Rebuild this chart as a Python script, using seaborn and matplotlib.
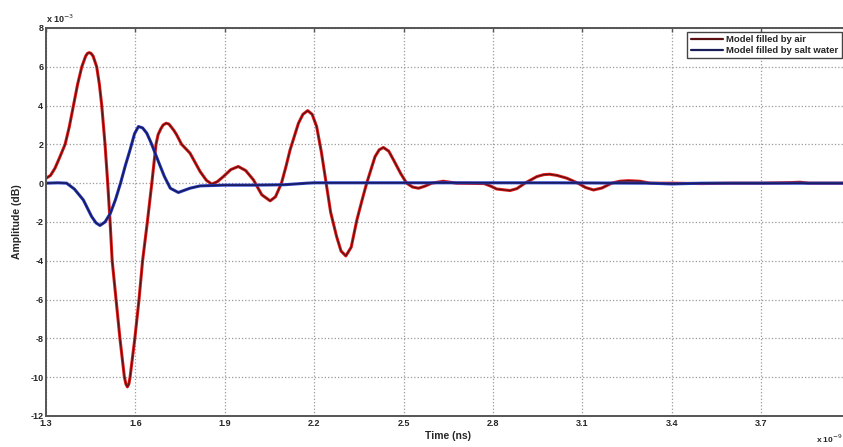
import numpy as np
import pandas as pd
import seaborn as sns
import matplotlib.pyplot as plt
from matplotlib.lines import Line2D

# time axis in units of 1e-9 s, amplitude in units of 1e-3
t_air = [1.300, 1.315, 1.330, 1.345, 1.364, 1.378, 1.392, 1.406, 1.420, 1.433, 1.439, 1.445,
         1.451, 1.458, 1.470, 1.479, 1.487, 1.498, 1.507, 1.515, 1.522, 1.535, 1.548, 1.563,
         1.568, 1.573, 1.578, 1.582, 1.598, 1.612, 1.624, 1.640, 1.655, 1.662, 1.669, 1.676,
         1.685, 1.693, 1.703, 1.712, 1.720, 1.729, 1.738, 1.755, 1.783, 1.817, 1.838, 1.856,
         1.875, 1.895, 1.920, 1.945, 1.970, 1.996, 2.024, 2.052, 2.070, 2.090, 2.105, 2.119,
         2.147, 2.162, 2.178, 2.193, 2.208, 2.224, 2.240, 2.255, 2.275, 2.290, 2.306, 2.324,
         2.343, 2.360, 2.376, 2.404, 2.418, 2.432, 2.450, 2.466, 2.490, 2.510, 2.530, 2.550,
         2.572, 2.594, 2.633, 2.678, 2.770, 2.792, 2.812, 2.857, 2.880, 2.907, 2.947, 2.970,
         2.990, 3.015, 3.047, 3.085, 3.110, 3.137, 3.165, 3.198, 3.225, 3.254, 3.293, 3.327,
         3.400, 3.500, 3.600, 3.700, 3.800, 3.830, 3.860, 3.950, 4.000]
amp_air = [0.25, 0.40, 0.77, 1.30, 2.00, 2.90, 4.00, 5.10, 6.00, 6.55, 6.69, 6.73,
           6.69, 6.55, 6.00, 5.10, 4.00, 2.00, 0.00, -2.00, -4.00, -6.00, -8.00, -10.00,
           -10.35, -10.50, -10.35, -10.00, -8.00, -6.00, -4.00, -2.00, 0.00, 1.00, 2.00, 2.50,
           2.80, 3.00, 3.09, 3.05, 2.90, 2.72, 2.50, 2.00, 1.55, 0.60, 0.15, -0.05,
           0.08, 0.34, 0.70, 0.86, 0.65, 0.17, -0.60, -0.91, -0.70, 0.00, 0.85, 1.72,
           3.09, 3.55, 3.74, 3.55, 2.92, 1.60, 0.00, -1.50, -2.75, -3.50, -3.75, -3.30,
           -1.90, -0.90, 0.00, 1.37, 1.72, 1.84, 1.65, 1.20, 0.50, 0.00, -0.20, -0.26,
           -0.15, 0.00, 0.10, 0.00, -0.02, -0.15, -0.30, -0.38, -0.28, 0.00, 0.34, 0.44,
           0.46, 0.40, 0.26, 0.00, -0.22, -0.35, -0.25, 0.00, 0.10, 0.13, 0.10, 0.00,
           0.00, -0.02, 0.00, 0.00, 0.03, 0.05, 0.00, 0.00, 0.00]

t_salt = [1.300, 1.340, 1.369, 1.395, 1.425, 1.453, 1.468, 1.481, 1.498, 1.516, 1.533,
          1.550, 1.566, 1.582, 1.597, 1.610, 1.624, 1.638, 1.652, 1.666, 1.680, 1.697,
          1.717, 1.744, 1.783, 1.817, 1.900, 2.000, 2.100, 2.175, 2.200, 2.500, 3.000,
          3.327, 3.400, 3.500, 4.000]
amp_salt = [0.00, 0.02, 0.00, -0.30, -0.86, -1.72, -2.05, -2.18, -2.00, -1.55, -0.85,
            0.00, 0.90, 1.72, 2.55, 2.92, 2.85, 2.58, 2.10, 1.55, 1.00, 0.35,
            -0.26, -0.48, -0.26, -0.14, -0.10, -0.10, -0.08, 0.00, 0.02, 0.02, 0.02,
            0.00, -0.04, 0.00, 0.00]

x_ticks = [1.3, 1.6, 1.9, 2.2, 2.5, 2.8, 3.1, 3.4, 3.7, 4.0]
x_tick_labels = ["1.3", "1.6", "1.9", "2.2", "2.5", "2.8", "3.1", "3.4", "3.7", ""]

df_air = pd.DataFrame({"Time": t_air, "Amplitude": amp_air})
df_salt = pd.DataFrame({"Time": t_salt, "Amplitude": amp_salt})

sns.set_style("white")
plt.rcParams['font.family'] = ['Liberation Sans', 'DejaVu Sans']

fig = plt.figure(figsize=(8.43, 4.47), dpi=100)
ax = fig.add_axes([0.0546, 0.0694, 0.9545, 0.868])

red_edge, red_core = "#e01c1c", "#5a1010"
blue_edge, blue_core = "#2a3cc8", "#181c58"

sns.lineplot(data=df_air, x="Time", y="Amplitude", ax=ax, color=red_edge, lw=2.2, legend=False)
sns.lineplot(data=df_air, x="Time", y="Amplitude", ax=ax, color=red_core, lw=0.9, legend=False)
sns.lineplot(data=df_salt, x="Time", y="Amplitude", ax=ax, color=blue_edge, lw=2.2, legend=False)
sns.lineplot(data=df_salt, x="Time", y="Amplitude", ax=ax, color=blue_core, lw=1.1, legend=False)

ax.set_xlim(1.3, 4.0)
ax.set_ylim(-12, 8)
ax.set_xticks(x_ticks)
ax.set_xticklabels(x_tick_labels)
ax.set_yticks(np.arange(-12, 9, 2))
ax.set_yticklabels([str(v) for v in range(-12, 9, 2)])

ax.grid(True, linestyle=":", color="#9a9a9a", lw=0.9)
for sp in ax.spines.values():
    sp.set_color("#555555")
    sp.set_linewidth(1.4)
ax.tick_params(direction="in", length=3, width=1, color="#555555",
               top=True, right=True, labelsize=6.5, pad=2)
for lbl in ax.get_xticklabels() + ax.get_yticklabels():
    lbl.set_fontweight("bold")

ax.set_xlabel("Time (ns)", fontsize=7.5, fontweight="bold", labelpad=2)
ax.set_ylabel("Amplitude (dB)", fontsize=7.5, fontweight="bold", labelpad=6)

fig.text(0.054, 0.948, r"x 10$^{-3}$", fontsize=6.5, fontweight="bold", ha="left")
fig.text(0.999, 0.008, r"x 10$^{-9}$", fontsize=6, fontweight="bold", ha="right")

handles = [Line2D([], [], color=red_core, lw=1.6), Line2D([], [], color=blue_core, lw=1.6)]
leg = ax.legend(handles, ["Model filled by air", "Model filled by salt water"],
                loc="upper right", bbox_to_anchor=(0.9985, 0.928),
                bbox_transform=fig.transFigure, fancybox=False,
                framealpha=1, edgecolor="#444444", borderpad=0.35, labelspacing=0.15,
                handlelength=3.4, handletextpad=0.35, borderaxespad=0,
                prop={"size": 6.8, "weight": "bold"})
leg.get_frame().set_linewidth(1.0)

fig.savefig("out.png", dpi=100)
